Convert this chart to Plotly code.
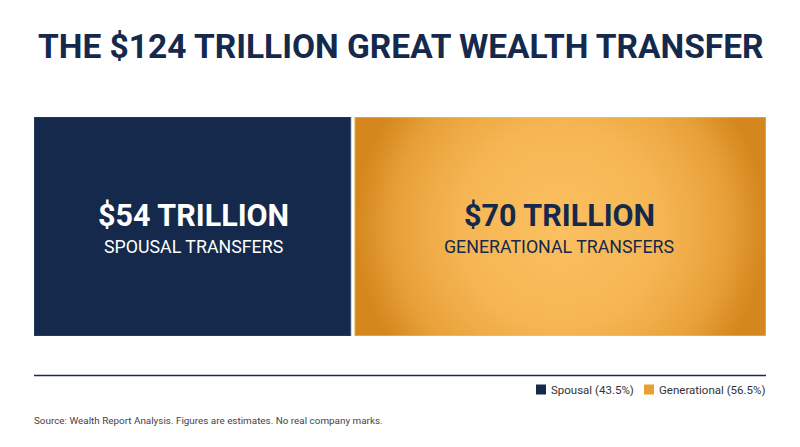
import plotly.graph_objects as go

categories = ["Spousal", "Generational"]
labels = ["SPOUSAL TRANSFERS", "GENERATIONAL TRANSFERS"]
values = [54, 70]  # trillions USD
total = sum(values)

NAVY = "#14294b"
ORANGE = "#e8a030"
GAP = 0.34  # half-gap between blocks, data units

W, H = 800, 447
OFF = 8  # page body margin offset

def px(x):
    return (x - OFF) / W

def py(y):
    return 1 - (y - OFF) / H

# plot area in screen pixels
PX0, PX1, PY0, PY1 = 34, 766, 117, 336

fig = go.Figure()

starts = [0, values[0]]
ends = [values[0], total]

# Spousal block (solid navy)
x0, x1 = starts[0], ends[0] - GAP
fig.add_trace(go.Scatter(
    x=[x0, x1, x1, x0, x0], y=[0, 0, 1, 1, 0],
    fill="toself", mode="lines", line=dict(width=0.8, color="#3b4f70"),
    fillcolor=NAVY, hoverinfo="skip", showlegend=False))

# Generational block (circular gold gradient; polygon extended vertically and clipped by axes)
x0, x1 = starts[1] + GAP, ends[1]
w_px = (x1 - x0) / total * (PX1 - PX0)
h_px = PY1 - PY0
ext = (w_px / h_px - 1) / 2
fig.add_trace(go.Scatter(
    x=[x0, x1, x1, x0, x0], y=[-ext, -ext, 1 + ext, 1 + ext, -ext],
    fill="toself", mode="lines", line=dict(width=0),
    fillgradient=dict(type="radial",
                      colorscale=[[0, "#fcc061"], [0.5, "#f5b552"], [0.8, "#e8a13a"], [1, "#d4871c"]]),
    hoverinfo="skip", showlegend=False))
fig.add_trace(go.Scatter(
    x=[x0, x1, x1, x0, x0], y=[0, 0, 1, 1, 0],
    mode="lines", line=dict(width=0.8, color="#f2cc80"),
    hoverinfo="skip", showlegend=False))

text_colors = ["#ffffff", NAVY]
for i in range(2):
    cx = (starts[i] + ends[i]) / 2
    fig.add_annotation(x=cx, y=0.5, xref="x", yref="y", yanchor="middle",
                       text=f"<b>${values[i]} TRILLION</b>", showarrow=False,
                       yshift=11, font=dict(family="Roboto", size=30.5, color=text_colors[i]))
    fig.add_annotation(x=cx, y=0.5, xref="x", yref="y", yanchor="middle",
                       text=labels[i], showarrow=False,
                       yshift=-20, font=dict(family="Roboto", size=17.8, color=text_colors[i]))

# Title
fig.add_annotation(x=px(400), y=py(47), xref="paper", yref="paper",
                   xanchor="center", yanchor="middle", showarrow=False,
                   text=f"<b>THE ${total} TRILLION GREAT WEALTH TRANSFER</b>",
                   font=dict(family="Roboto", size=33.5, color=NAVY))

# Divider line
fig.add_shape(type="line", xref="paper", yref="paper",
              x0=px(34), x1=px(766), y0=py(375.5), y1=py(375.5),
              line=dict(color=NAVY, width=1.6))

# Legend (custom)
pcts = [v / total * 100 for v in values]
sq_colors = [NAVY, ORANGE]
sq_x = [536, 644]
for i in range(2):
    fig.add_shape(type="rect", xref="paper", yref="paper",
                  x0=px(sq_x[i]), x1=px(sq_x[i] + 10), y0=py(394.5), y1=py(384.5),
                  fillcolor=sq_colors[i], line=dict(width=0))
    fig.add_annotation(x=px(sq_x[i] + 13), y=py(390), xref="paper", yref="paper",
                       xanchor="left", yanchor="middle", showarrow=False,
                       text=f"{categories[i]} ({pcts[i]:.1f}%)",
                       font=dict(family="Roboto", size=11.5, color="#333333"))

# Source
fig.add_annotation(x=px(32), y=py(420), xref="paper", yref="paper",
                   xanchor="left", yanchor="middle", showarrow=False,
                   text="Source: Wealth Report Analysis. Figures are estimates. No real company marks.",
                   font=dict(family="Roboto", size=9.9, color="#444444"))

fig.update_layout(
    width=W, height=H,
    margin=dict(l=0, r=0, t=0, b=0),
    paper_bgcolor="white", plot_bgcolor="white",
    xaxis=dict(domain=[px(PX0), px(PX1)], range=[0, total], visible=False, fixedrange=True),
    yaxis=dict(domain=[py(PY1), py(PY0)], range=[0, 1], visible=False, fixedrange=True),
    showlegend=False,
)

fig.write_html("out.html")
